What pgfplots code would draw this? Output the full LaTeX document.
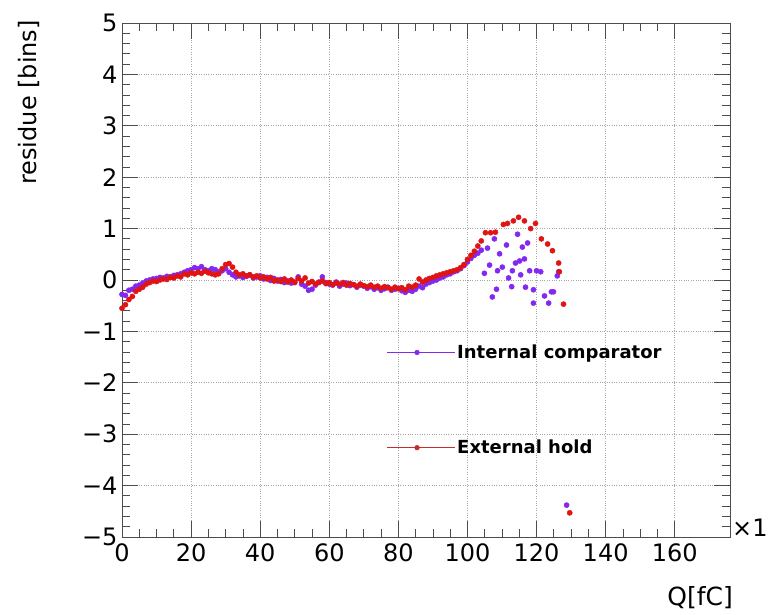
\documentclass[border=0pt]{standalone}
\usepackage{pgfplots}
\pgfplotsset{compat=1.18}
\usepackage{fontspec}
\setmainfont{DejaVu Sans}
\definecolor{vio}{RGB}{130,40,240}
\definecolor{rd}{RGB}{225,20,20}
\definecolor{rdl}{RGB}{195,45,45}
\begin{document}
\begin{tikzpicture}
\useasboundingbox (0pt,0pt) rectangle (769pt,615pt);
\begin{axis}[
  name=ax,
  at={(122pt,78pt)}, anchor=south west,
  scale only axis, width=608pt, height=514pt,
  xmin=0, xmax=176, ymin=-5, ymax=5,
  xtick={0,20,...,160}, minor x tick num=3,
  ytick={-5,-4,...,5}, minor y tick num=4,
  yticklabels={−5,−4,−3,−2,−1,0,1,2,3,4,5},
  xtick pos=both, ytick pos=both, tick align=inside,
  xticklabel pos=bottom, yticklabel pos=left,
  major tick length=16pt, minor tick length=8pt,
  grid=major, major grid style={dotted, gray!70, line width=0.8pt},
  tick style={black!70, line width=0.8pt},
  axis line style={black!70, line width=0.8pt},
  ticklabel style={font=\fontsize{24}{28}\selectfont},
  xticklabel style={yshift=-3pt},
  yticklabel style={xshift=-1pt},
  /pgf/number format/assume math mode=true,
  legend style={at={(axis cs:76.5,-1.22)}, anchor=north west, draw=none, fill=none,
    font=\fontsize{18}{21}\selectfont\bfseries, row sep=76pt, inner sep=0pt},
  legend cell align=left,
  legend image code/.code={\path (0pt,0pt) -- (68pt,0pt); \draw[#1, line width=1.1pt] (0pt,0pt) -- (60pt,0pt); \fill[#1] (30pt,0pt) circle (2.4pt);},
]
\addplot[only marks, mark=*, mark size=2.6pt, color=vio, forget plot] coordinates {
(0,-0.28)(1,-0.30)(2,-0.20)(3,-0.18)(4,-0.12)(5,-0.10)(6,-0.06)(7,-0.02)(8,0.00)(9,0.02)
(10,0.03)(11,0.05)(12,0.04)(13,0.07)(14,0.06)(15,0.09)(16,0.10)(17,0.12)(18,0.15)(19,0.18)
(20,0.20)(21,0.24)(22,0.22)(23,0.26)(24,0.20)(25,0.18)(26,0.22)(27,0.20)(28,0.16)(29,0.18)
(30,0.22)(31,0.15)(32,0.10)(33,0.06)(34,0.08)(35,0.05)(36,0.07)(37,0.10)(38,0.04)(39,0.06)
(40,0.08)(41,0.02)(42,0.05)(43,-0.01)(44,0.03)(45,-0.02)(46,0.01)(47,-0.05)(48,-0.02)(49,-0.06)
(50,-0.04)(51,0.06)(52,-0.08)(53,-0.12)(54,-0.20)(55,-0.18)(56,-0.10)(57,-0.04)(58,0.06)(59,-0.05)
(60,-0.08)(61,-0.10)(62,-0.04)(63,-0.12)(64,-0.08)(65,-0.06)(66,-0.11)(67,-0.09)(68,-0.14)(69,-0.10)
(70,-0.12)(71,-0.16)(72,-0.13)(73,-0.18)(74,-0.15)(75,-0.20)(76,-0.17)(77,-0.14)(78,-0.20)(79,-0.18)
(80,-0.16)(81,-0.21)(82,-0.24)(83,-0.20)(84,-0.22)(85,-0.18)(86,-0.12)(87,-0.15)(88,-0.08)(89,-0.05)
(90,-0.02)(91,0.00)(92,0.04)(93,0.06)(94,0.10)(95,0.12)(96,0.16)(97,0.18)(98,0.22)(99,0.28)
(100,0.35)(101,0.42)(102,0.48)(103,0.52)(104,0.58)
(105.8,0.62)(107.8,0.80)(106.4,0.29)(104.9,0.13)(107.2,-0.33)(108.4,-0.18)(109.3,0.51)(110.1,0.25)
(108.7,0.18)(111.3,0.68)(112.8,-0.13)(111.9,0.04)(113,0.18)(113.9,0.33)(114.5,0.89)(115.1,0.37)
(116.5,0.41)(115.4,0.10)(115.9,0.64)(117.4,0.72)(116.8,-0.14)(118,0.18)(119.1,-0.19)(119.1,-0.45)
(120,0.18)(121.2,0.16)(122.3,-0.31)(123.5,-0.45)(124.3,-0.23)(124.9,-0.23)(126,0.08)(126.4,0.16)
(128.7,-4.38)
};
\addplot[only marks, mark=*, mark size=2.6pt, color=rd, forget plot] coordinates {
(0,-0.55)(1,-0.48)(2,-0.38)(3,-0.32)(4,-0.22)(5,-0.18)(6,-0.14)(7,-0.08)(8,-0.05)(9,-0.02)
(10,-0.03)(11,0.00)(12,0.02)(13,0.01)(14,0.05)(15,0.04)(16,0.08)(17,0.06)(18,0.12)(19,0.10)
(20,0.14)(21,0.12)(22,0.15)(23,0.13)(24,0.17)(25,0.14)(26,0.12)(27,0.10)(28,0.12)(29,0.22)
(30,0.30)(31,0.32)(32,0.25)(33,0.15)(34,0.10)(35,0.12)(36,0.08)(37,0.10)(38,0.06)(39,0.08)
(40,0.04)(41,0.06)(42,0.02)(43,0.05)(44,-0.02)(45,0.00)(46,-0.03)(47,0.02)(48,-0.04)(49,0.00)
(50,-0.05)(51,0.03)(52,-0.02)(53,0.04)(54,-0.06)(55,-0.03)(56,-0.08)(57,-0.05)(58,-0.02)(59,-0.07)
(60,-0.05)(61,-0.09)(62,-0.06)(63,-0.08)(64,-0.05)(65,-0.10)(66,-0.07)(67,-0.09)(68,-0.12)(69,-0.08)
(70,-0.11)(71,-0.13)(72,-0.10)(73,-0.14)(74,-0.12)(75,-0.16)(76,-0.13)(77,-0.15)(78,-0.18)(79,-0.14)
(80,-0.17)(81,-0.15)(82,-0.19)(83,-0.12)(84,-0.14)(85,-0.10)(86,0.02)(87,-0.04)(88,0.00)(89,0.03)
(90,0.05)(91,0.08)(92,0.10)(93,0.12)(94,0.14)(95,0.16)(96,0.18)(97,0.20)(98,0.24)(99,0.30)
(100,0.40)(101,0.48)(102,0.56)(103,0.66)(104,0.76)
(105.2,0.92)(106.7,0.92)(108.1,0.93)(110.4,1.08)(111.6,1.10)(113.3,1.15)(114.8,1.22)(116.5,1.15)
(118.3,1.00)(119.7,1.10)(121.4,0.80)(123.2,0.70)(124.6,0.57)(126.4,0.33)(126.6,0.16)(127.8,-0.47)
(129.6,-4.53)
};
\addlegendimage{vio}
\addlegendentry{Internal comparator}
\addlegendimage{rdl}
\addlegendentry{External hold}
\end{axis}
\node[anchor=base west, inner sep=0pt, font=\fontsize{24}{28}\selectfont] at ([xshift=2pt]ax.south east) {×1};
\node[anchor=base east, inner sep=0pt, font=\fontsize{25}{30}\selectfont] at ([xshift=3pt,yshift=-69pt]ax.south east) {Q[fC]};
\node[anchor=base east, rotate=90, inner sep=0pt, font=\fontsize{24}{28}\selectfont] at ([xshift=-86pt,yshift=3pt]ax.north west) {residue [bins]};
\end{tikzpicture}
\end{document}
